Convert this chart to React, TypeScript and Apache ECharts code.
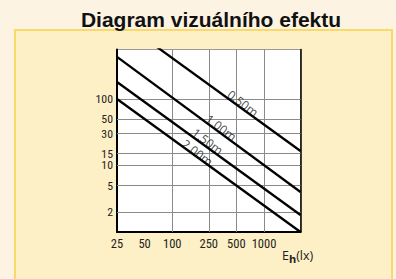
import React, { useEffect, useRef } from "react";
import * as echarts from "echarts";

const titleText = "Diagram vizuálního efektu";
const xTicks = [25, 50, 100, 250, 500, 1000];
const yTicks = [2, 5, 10, 15, 30, 50, 100];
const xGridValues = [100, 250, 500, 1000];
const yGridValues = [2, 5, 10, 15, 30, 50, 100];
const xRange = [25, 2500];
const yRange = [1, 555];

const lineNames = ["0.50m", "1.00m", "1.50m", "2.00m"];
const lineX = [25, 2500];
const line050 = [1650, 16.5];
const line100 = [430, 4];
const line150 = [180, 1.8];
const line200 = [100, 1];
const lineValues = [line050, line100, line150, line200];
const labelX = [590, 342, 243, 188];
const labelY = [86, 37, 23, 15.6];

const L = (v: number) => Math.log10(v);
const nearest = (arr: number[], v: number) => {
  const t = Math.pow(10, v);
  let best = arr[0];
  for (const a of arr) if (Math.abs(a - t) < Math.abs(best - t)) best = a;
  return String(best);
};

const tickFont = "'Liberation Sans Narrow', 'Roboto Condensed', 'DejaVu Sans Condensed', Roboto, sans-serif";

export default function App() {
  const ref = useRef<HTMLDivElement>(null);
  useEffect(() => {
    if (!ref.current) return;
    const chart = echarts.init(ref.current, null, { renderer: "svg" });
    const series: any[] = lineNames.map((n, i) => ({
      type: "line",
      name: n,
      data: lineX.map((x, j) => [L(x), L(lineValues[i][j])]),
      symbol: "none",
      lineStyle: { color: "#000", width: 2.3 },
      clip: true,
      silent: true,
      z: 5,
    }));
    series.push({
      type: "scatter",
      data: lineNames.map((n, i) => ({ value: [L(labelX[i]), L(labelY[i])], name: n })),
      symbolSize: 0,
      silent: true,
      z: 6,
      label: {
        show: true,
        position: "inside",
        rotate: -37,
        formatter: (p: any) => p.name,
        color: "#111",
        fontSize: 12,
        fontFamily: "'Open Sans', sans-serif",
      },
    });
    series.push({
      type: "line",
      data: [],
      silent: true,
      z: 1,
      markLine: {
        silent: true,
        symbol: "none",
        label: { show: false },
        lineStyle: { color: "#8a8a8a", width: 1, type: "solid" },
        data: [
          ...xGridValues.map((v) => ({ xAxis: L(v) })),
          ...yGridValues.map((v) => ({ yAxis: L(v) })),
        ],
      },
    });
    chart.setOption({
      animation: false,
      backgroundColor: "#FDF3E2",
      title: {
        text: titleText,
        left: 206,
        textAlign: "center",
        top: 4,
        textStyle: {
          fontFamily: "'Liberation Sans', Arial, sans-serif",
          fontWeight: "bold",
          fontSize: 21,
          color: "#111",
        },
      },
      graphic: [
        {
          type: "rect",
          z: -10,
          shape: { x: 15, y: 30, width: 377, height: 270 },
          style: { fill: "#FEF0C6", stroke: "#F8D96A", lineWidth: 2 },
        },
        {
          type: "text",
          left: 282,
          top: 249,
          style: {
            text: "{e|E}{h|h}{e|(lx)}",
            rich: {
              e: { fontSize: 12.5, fontFamily: "'Open Sans', sans-serif", fill: "#222", verticalAlign: "top" },
              h: { fontSize: 11, fontFamily: "'Open Sans', sans-serif", fontWeight: "bold", fill: "#222", padding: [4, 0, 0, 0] },
            },
          },
        },
      ],
      grid: {
        left: 117,
        right: 95.5,
        top: 49.5,
        bottom: 47,
        show: true,
        backgroundColor: "#ffffff",
        borderColor: "#999",
        borderWidth: 1,
      },
      xAxis: {
        type: "value",
        min: L(xRange[0]),
        max: L(xRange[1]),
        axisLine: { show: true, onZero: false, lineStyle: { color: "#000", width: 2 } },
        axisTick: { show: false },
        splitLine: { show: false },
        axisLabel: {
          customValues: xTicks.map(L),
          formatter: (v: number) => nearest(xTicks, v),
          color: "#222",
          fontSize: 12.5,
          margin: 5,
          fontFamily: tickFont,
        },
      },
      yAxis: [
        {
          type: "value",
          min: L(yRange[0]),
          max: L(yRange[1]),
          axisLine: { show: true, onZero: false, lineStyle: { color: "#000", width: 2 } },
          axisTick: { show: false },
          splitLine: { show: false },
          axisLabel: {
            customValues: yTicks.map(L),
            formatter: (v: number) => nearest(yTicks, v),
            color: "#222",
            fontSize: 11.8,
            lineHeight: 10,
            margin: 4,
            fontFamily: tickFont,
          },
        },
        {
          type: "value",
          position: "right",
          min: L(yRange[0]),
          max: L(yRange[1]),
          axisLine: { show: true, onZero: false, lineStyle: { color: "#000", width: 1.5 } },
          axisTick: { show: false },
          axisLabel: { show: false },
          splitLine: { show: false },
        },
      ],
      series,
    });
    return () => chart.dispose();
  }, []);
  return (
    <div
      ref={ref}
      style={{ position: "fixed", left: 0, top: 0, width: 396, height: 279 }}
    />
  );
}
